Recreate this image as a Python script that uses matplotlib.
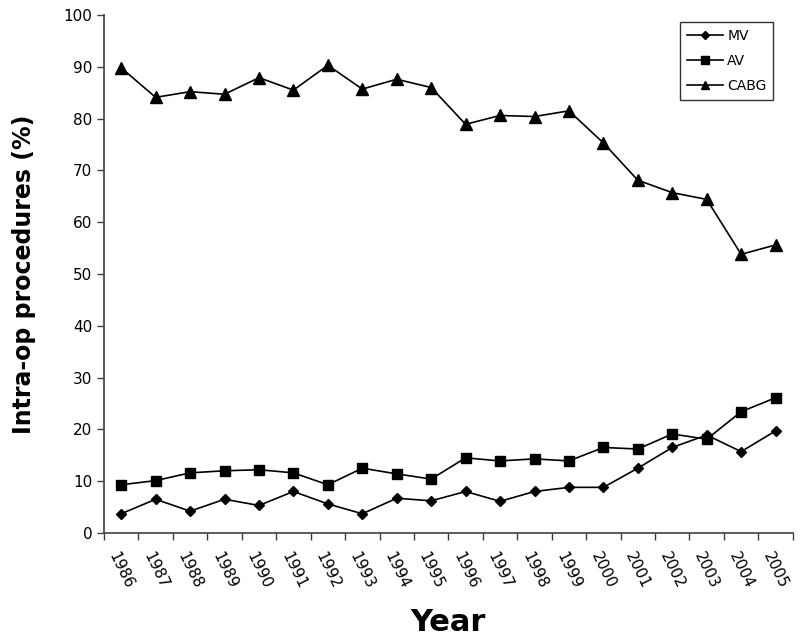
import matplotlib
matplotlib.use("Agg")
import matplotlib.pyplot as plt
import numpy as np

years = [str(y) for y in range(1986, 2006)]
mv = [3.7, 6.5, 4.2, 6.5, 5.3, 8.0, 5.6, 3.7, 6.7, 6.2,
      8.0, 6.1, 8.0, 8.8, 8.8, 12.5, 16.5, 18.9, 15.7, 19.7]
av = [9.3, 10.1, 11.6, 12.0, 12.2, 11.6, 9.3, 12.5, 11.4, 10.4,
      14.5, 13.9, 14.3, 13.9, 16.5, 16.2, 19.1, 18.1, 23.4, 26.1]
cabg = [89.8, 84.1, 85.2, 84.7, 87.9, 85.5, 90.3, 85.7, 87.6, 86.0,
        78.9, 80.6, 80.4, 81.5, 75.3, 68.1, 65.7, 64.4, 53.8, 55.6]
yticks = list(range(0, 101, 10))

fig = plt.figure(figsize=(8, 6.39), dpi=100)
ax = fig.add_axes([0.13, 0.166, 0.861, 0.8105])

x = np.arange(len(years))
ax.plot(x, mv, color='black', lw=1.2, marker='D', ms=5.5, label='MV')
ax.plot(x, av, color='black', lw=1.2, marker='s', ms=7, label='AV')
ax.plot(x, cabg, color='black', lw=1.2, marker='^', ms=8.5, label='CABG')

ax.set_xlim(-0.5, len(years) - 0.5)
ax.set_ylim(0, 100)
ax.set_yticks(yticks)
ax.set_yticklabels([str(v) for v in yticks], fontsize=11)
ax.set_xticks(x)
ax.set_xticklabels(years, rotation=-64, fontsize=11, ha='center')
ax.tick_params(axis='x', which='major', length=0, pad=12)
ax.set_xticks(np.arange(-0.5, len(years)), minor=True)
ax.tick_params(axis='x', which='minor', length=5, width=1, color='#404040')
ax.tick_params(axis='y', length=5, width=1, color='#404040')

for s in ['top', 'right']:
    ax.spines[s].set_visible(False)
for s in ['left', 'bottom']:
    ax.spines[s].set_color('#404040')
    ax.spines[s].set_linewidth(1.2)

ax.set_ylabel('Intra-op procedures (%)', fontsize=17, fontweight='bold', labelpad=20)
ax.set_xlabel('Year', fontsize=22, fontweight='bold', labelpad=12)

leg = ax.legend(loc='upper right', bbox_to_anchor=(0.982, 1.0), frameon=True,
                fancybox=False, edgecolor='black', fontsize=10, markerscale=0.75,
                handlelength=2.6, borderpad=0.5, labelspacing=0.8, handletextpad=0.3)
leg.get_frame().set_linewidth(1.0)

fig.savefig('out.png', dpi=100)
